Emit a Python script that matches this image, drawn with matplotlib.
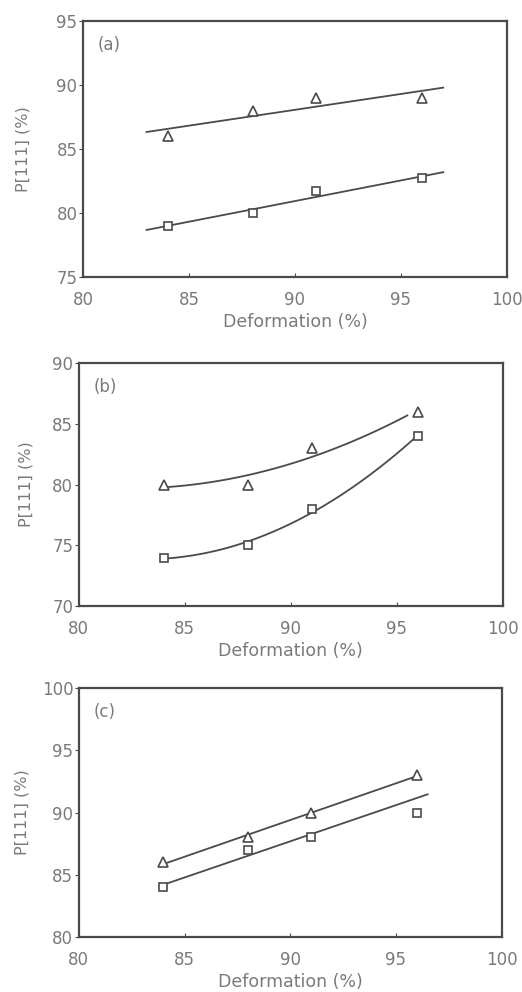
import matplotlib.pyplot as plt
import numpy as np

deformation = [84, 88, 91, 96]

# panel (a)
a_triangle = [86, 88, 89, 89]
a_square = [79, 80, 81.7, 82.7]

# panel (b)
b_triangle = [80, 80, 83, 86]
b_square = [74, 75, 78, 84]

# panel (c)
c_triangle = [86, 88, 90, 93]
c_square = [84, 87, 88, 90]

x_ticks = [80, 85, 90, 95, 100]
ylims = {"a": (75, 95), "b": (70, 90), "c": (80, 100)}

INK = "#4a4a4a"
TEXT = "#7a7a7a"


def draw_fit(ax, x, y, deg, x_from, x_to, use=None):
    xs = np.array(x[:use] if use else x)
    ys = np.array(y[:use] if use else y)
    coef = np.polyfit(xs, ys, deg)
    xx = np.linspace(x_from, x_to, 100)
    ax.plot(xx, np.polyval(coef, xx), color=INK, lw=1.3)


def style_axes(ax, tag, ylim, ylabel_x):
    ax.set_xlim(80, 100)
    ax.set_ylim(*ylim)
    ax.set_xticks(x_ticks)
    ax.set_yticks(np.arange(ylim[0], ylim[1] + 1, 5))
    ax.tick_params(axis="x", direction="in", length=3, pad=10, labelsize=12,
                   colors=INK, labelcolor=TEXT)
    ax.tick_params(axis="y", direction="out", length=3, pad=1, labelsize=12,
                   colors=INK, labelcolor=TEXT)
    for s in ax.spines.values():
        s.set_color(INK)
        s.set_linewidth(1.6)
    ax.set_xlabel("Deformation (%)", fontsize=12.5, color=TEXT, labelpad=3)
    ax.set_ylabel("P[111] (%)", fontsize=11.5, color=TEXT)
    ax.yaxis.set_label_coords(ylabel_x, 0.5)
    ax.text(0.035, 0.94, "(" + tag + ")", transform=ax.transAxes, fontsize=12,
            color=TEXT, va="top")


def draw_points(ax, tri, sq):
    ax.plot(deformation, tri, "^", ms=6.5, mfc="white", mec=INK, mew=1.2)
    ax.plot(deformation, sq, "s", ms=6, mfc="white", mec=INK, mew=1.2)


fig = plt.figure(figsize=(5.22, 9.92), dpi=100)

ax_a = fig.add_axes([0.159, 0.7208, 0.812, 0.258])
draw_fit(ax_a, deformation, a_triangle, 1, 83, 97)
draw_fit(ax_a, deformation, a_square, 1, 83, 97)
draw_points(ax_a, a_triangle, a_square)
style_axes(ax_a, "a", ylims["a"], -0.125)

ax_b = fig.add_axes([0.151, 0.389, 0.812, 0.245])
draw_fit(ax_b, deformation, b_triangle, 2, 84, 95.5)
draw_fit(ax_b, deformation, b_square, 2, 84, 96)
draw_points(ax_b, b_triangle, b_square)
style_axes(ax_b, "b", ylims["b"], -0.108)

ax_c = fig.add_axes([0.151, 0.0554, 0.810, 0.251])
draw_fit(ax_c, deformation, c_triangle, 1, 84, 96)
# lower line in (c) follows the first three points only
draw_fit(ax_c, deformation, c_square, 1, 84, 96.5, use=3)
draw_points(ax_c, c_triangle, c_square)
style_axes(ax_c, "c", ylims["c"], -0.116)

plt.savefig("out.png", dpi=100)
plt.close()
